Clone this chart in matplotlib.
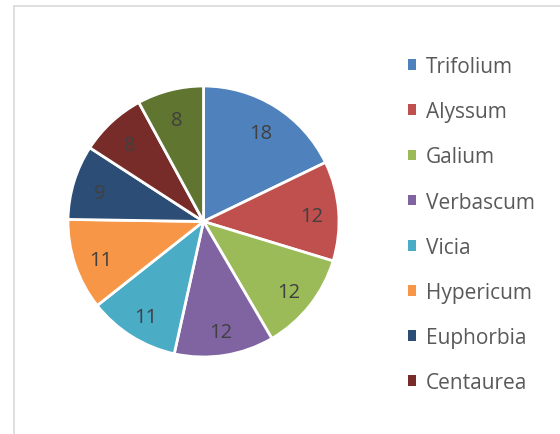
import matplotlib
matplotlib.use('Agg')
import matplotlib.pyplot as plt
from matplotlib.patches import Patch
from matplotlib.lines import Line2D

names = ['Trifolium', 'Alyssum', 'Galium', 'Verbascum', 'Vicia',
         'Hypericum', 'Euphorbia', 'Centaurea', 'Other']
counts = [18, 12, 12, 12, 11, 11, 9, 8, 8]
colors = ['#4F81BD', '#C0504D', '#9BBB59', '#8064A2', '#4BACC6',
          '#F79646', '#2C4D75', '#772C2A', '#5F7530']
shown = 8  # legend runs off the bottom, only 8 entries visible

plt.rcParams['font.family'] = ['Open Sans', 'DejaVu Sans']

fig = plt.figure(figsize=(5.6, 4.35), dpi=100)
ax = fig.add_axes([68 / 560, 1 - 358 / 435, 271 / 560, 271 / 435])

total = sum(counts)
wedges, texts, autotexts = ax.pie(
    counts, colors=colors, startangle=90, counterclock=False,
    autopct=lambda p: '%d' % round(p * total / 100.0), pctdistance=0.8,
    wedgeprops=dict(edgecolor='white', linewidth=2.0),
    textprops=dict(color='#404040', fontsize=14.5))
# nudge value labels down a little, like the original
for t in autotexts:
    x, y = t.get_position()
    t.set_position((x, y - 0.025))
ax.set_xlim(-1.0, 1.0)
ax.set_ylim(-1.0, 1.0)
ax.set_aspect('equal')

handles = [Patch(facecolor=c, edgecolor='none') for c in colors[:shown]]
fig.legend(handles, names[:shown], loc='upper left',
           bbox_to_anchor=(0.695, 0.912), frameon=False,
           fontsize=15, labelcolor='#595959',
           handlelength=0.4, handleheight=0.4, handletextpad=0.45,
           labelspacing=1.16)

# chart area border (cropped at right and bottom)
fig.add_artist(Line2D([13.5 / 560, 13.5 / 560], [0, 1 - 6.5 / 435],
                      color='#D9D9D9', lw=1.2, transform=fig.transFigure))
fig.add_artist(Line2D([13.5 / 560, 1], [1 - 6.5 / 435, 1 - 6.5 / 435],
                      color='#D9D9D9', lw=1.2, transform=fig.transFigure))

fig.savefig('out.png', dpi=100)
